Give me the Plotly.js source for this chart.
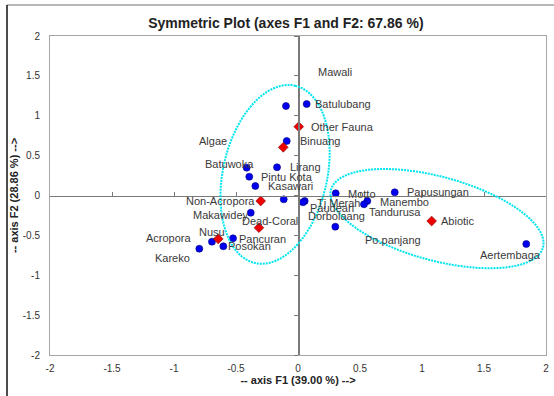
<!DOCTYPE html>
<html>
<head>
<meta charset="utf-8">
<script src="https://cdn.plot.ly/plotly-3.0.1.min.js"></script>
<style>
  html, body { margin: 0; padding: 0; background: #fff; }
  #chart { width: 554px; height: 396px; }
</style>
</head>
<body>
<div id="chart"></div>
<script>
// ---- Data ----
const siteNames = ["Mawali", "Batulubang", "Binuang", "Batuwoka", "Lirang", "Pintu Kota", "Kasawari",
  "Makawidey", "Nusu", "Pancuran", "Posokan", "Kareko", "Motto", "Papusungan", "Manembo", "Tandurusa",
  "Tj Merah", "Paudean", "Dorbolaang", "Po.panjang", "Aertembaga"];
const siteF1 = [-0.097, 0.070, -0.091, -0.414, -0.169, -0.393, -0.344,
  -0.381, -0.694, -0.524, -0.602, -0.796, 0.304, 0.780, 0.559, 0.532,
  0.054, 0.040, -0.115, 0.301, 1.841];
const siteF2 = [1.122, 1.147, 0.683, 0.349, 0.354, 0.236, 0.119,
  -0.216, -0.579, -0.537, -0.637, -0.667, 0.028, 0.040, -0.069, -0.110,
  -0.069, -0.085, -0.048, -0.391, -0.608];

const categoryNames = ["Other Fauna", "Algae", "Non-Acropora", "Dead-Coral", "Acropora", "Abiotic"];
const categoryF1 = [0.006, -0.119, -0.301, -0.315, -0.643, 1.078];
const categoryF2 = [0.863, 0.604, -0.069, -0.404, -0.545, -0.320];

const tickValues = [-2, -1.5, -1, -0.5, 0, 0.5, 1, 1.5, 2];
const tickLabels = ["-2", "-1.5", "-1", "-0.5", "0", "0.5", "1", "1.5", "2"];

// Confidence ellipses: centre, semi-axis vectors (F1, F2 units)
const ellipseLeft = {cx: -0.185, cy: 0.265, ax: 0.161, ay: 1.112, bx: 0.41, by: -0.143};
const ellipseRight = {cx: 1.121, cy: -0.29, ax: 0.855, ay: -0.362, bx: 0.0895, by: 0.506};

// ---- Label placement (pixel offsets from each point) ----
const labelPlacement = {
  "Mawali": ["left", 30, 34], "Batulubang": ["left", 6, 0], "Binuang": ["left", 11, 0],
  "Batuwoka": ["center", -17, 4], "Lirang": ["left", 11, 0], "Pintu Kota": ["left", 10, 0],
  "Kasawari": ["left", 11, 0], "Makawidey": ["right", 0, -2], "Nusu": ["center", 0, 10],
  "Pancuran": ["left", 4, -1], "Posokan": ["left", 3, 0], "Kareko": ["right", -7, -9],
  "Motto": ["left", 10, -1], "Papusungan": ["left", 10, 0], "Manembo": ["left", 11, -1],
  "Tandurusa": ["left", 3, -8], "Tj Merah": ["left", 10, -2], "Paudean": ["left", 5, -6],
  "Dorbolaang": ["left", 22, -17], "Po.panjang": ["left", 28, -13], "Aertembaga": ["center", -16, -11],
  "Other Fauna": ["left", 10, 0], "Algae": ["right", -54, 6], "Non-Acropora": ["right", -4, 0],
  "Dead-Coral": ["center", 11, 7], "Acropora": ["right", -24, 1], "Abiotic": ["left", 7, 0]
};

function ellipsePath(e) {
  const n = 90;
  let d = "";
  for (let i = 0; i <= n; i++) {
    const t = 2 * Math.PI * i / n;
    const x = e.cx + e.ax * Math.cos(t) + e.bx * Math.sin(t);
    const y = e.cy + e.ay * Math.cos(t) + e.by * Math.sin(t);
    d += (i === 0 ? "M" : "L") + x.toFixed(4) + "," + y.toFixed(4);
  }
  return d + "Z";
}

const FONT = "Liberation Sans, Arial, sans-serif";
const labelFont = {family: FONT, size: 11, color: "#3a3a3a"};
const annotations = [];
function addLabels(names, xs, ys) {
  names.forEach((nm, i) => {
    const p = labelPlacement[nm];
    annotations.push({
      x: xs[i], y: ys[i], xref: "x", yref: "y", text: nm, showarrow: false,
      xanchor: p[0], yanchor: "middle", xshift: p[1], yshift: p[2], font: labelFont
    });
  });
}
addLabels(siteNames, siteF1, siteF2);
addLabels(categoryNames, categoryF1, categoryF2);

const traces = [
  {
    x: siteF1, y: siteF2, text: siteNames, type: "scatter", mode: "markers", name: "Sites",
    marker: {symbol: "circle", size: 7, color: "#0000ee", line: {color: "#000080", width: 0.6}},
    hoverinfo: "text+x+y"
  },
  {
    x: categoryF1, y: categoryF2, text: categoryNames, type: "scatter", mode: "markers", name: "Categories",
    marker: {symbol: "diamond", size: 7.5, color: "#ee0000", line: {color: "#800000", width: 0.6}},
    hoverinfo: "text+x+y"
  },
  { // carrier for the axes through the origin
    x: [0], y: [0], xaxis: "x2", yaxis: "y2", type: "scatter", mode: "markers",
    marker: {size: 1, color: "rgba(0,0,0,0)"}, hoverinfo: "skip", showlegend: false
  }
];

const tickFont = {family: FONT, size: 10, color: "#333"};
const layout = {
  width: 554, height: 396,
  margin: {l: 50, r: 8, t: 36, b: 41},
  paper_bgcolor: "#fff", plot_bgcolor: "#fff",
  showlegend: false,
  title: {
    text: "<b>Symmetric Plot (axes F1 and F2: 67.86 %)</b>",
    font: {family: FONT, size: 14, color: "#222"},
    x: 0.516, xref: "container", xanchor: "center", y: 0.942, yref: "container", yanchor: "middle"
  },
  xaxis: {
    range: [-2, 2], tickvals: tickValues, ticktext: tickLabels, tickfont: tickFont,
    showgrid: false, zeroline: false, showline: true, mirror: true, linecolor: "#a6a6a6", linewidth: 1,
    ticks: "outside", ticklen: 4, tickcolor: "rgba(0,0,0,0)",
    title: {text: "<b>-- axis F1 (39.00 %) --></b>", font: {family: FONT, size: 11, color: "#222"}, standoff: 3}
  },
  yaxis: {
    range: [-2, 2], tickvals: tickValues, ticktext: tickLabels, tickfont: tickFont,
    showgrid: false, zeroline: false, showline: true, mirror: true, linecolor: "#a6a6a6", linewidth: 1,
    ticks: "outside", ticklen: 7, tickcolor: "rgba(0,0,0,0)",
    title: {text: "<b>-- axis F2 (28.86 %) --></b>", font: {family: FONT, size: 11, color: "#222"}, standoff: 1}
  },
  xaxis2: {
    overlaying: "x", anchor: "free", position: 0.5, side: "bottom", range: [-2, 2],
    tickvals: tickValues, showticklabels: false, showgrid: false, zeroline: false,
    showline: true, linecolor: "#7a7a7a", linewidth: 1.5, ticks: "inside", ticklen: 4, tickcolor: "#7a7a7a", tickwidth: 1
  },
  yaxis2: {
    overlaying: "y", anchor: "free", position: 0.5, side: "left", range: [-2, 2],
    tickvals: tickValues, showticklabels: false, showgrid: false, zeroline: false,
    showline: true, linecolor: "#7a7a7a", linewidth: 1.5, ticks: "outside", ticklen: 4, tickcolor: "#7a7a7a", tickwidth: 1
  },
  shapes: [
    {type: "path", xref: "x", yref: "y", path: ellipsePath(ellipseLeft), line: {color: "#00e5f0", width: 2, dash: "2px,1px"}, layer: "above"},
    {type: "path", xref: "x", yref: "y", path: ellipsePath(ellipseRight), line: {color: "#00e5f0", width: 2, dash: "2px,1px"}, layer: "above"},
    {type: "line", xref: "paper", yref: "paper", x0: -0.0867, x1: 1.02, y0: 1.097, y1: 1.097, line: {color: "#a0a0a0", width: 1.5}},
    {type: "line", xref: "paper", yref: "paper", x0: -0.0867, x1: -0.0867, y0: 1.097, y1: -0.14, line: {color: "#111", width: 1.5}}
  ],
  annotations: annotations
};

Plotly.newPlot("chart", traces, layout, {displayModeBar: false, staticPlot: true});
</script>
</body>
</html>
